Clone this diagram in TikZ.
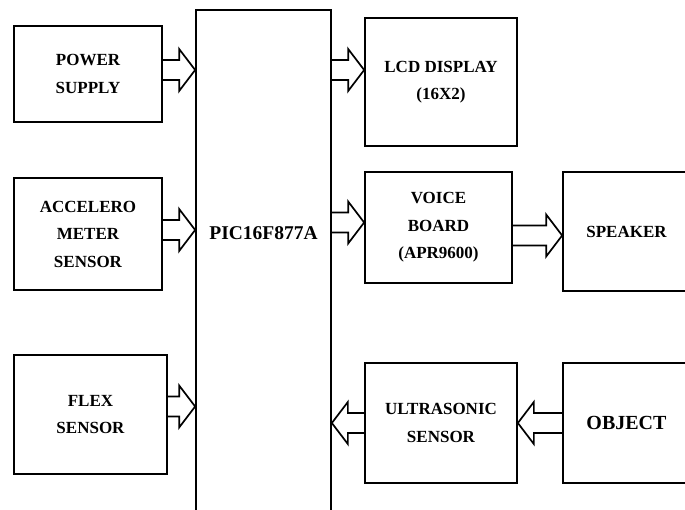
\documentclass[tikz,border=0pt]{standalone}
\usepackage{fontspec}
\setmainfont{Liberation Serif}
\usetikzlibrary{calc}

\tikzset{
  blk/.style={draw, line width=1.7pt, inner sep=0pt, align=center,
    font=\bfseries\fontsize{17}{27.5}\selectfont},
  % hollow block arrow, horizontal, from start to target
  fat/.style={line width=1.7pt, to path={
    let \p1=(\tikztostart), \p2=(\tikztotarget),
        \n2={16*(1-2*(\x2>\x1))} in
    (\x1,{\y1+10pt}) -- ({\x2+(\n2)},{\y1+10pt}) -- ({\x2+(\n2)},{\y1+21pt})
    -- (\x2,\y1) -- ({\x2+(\n2)},{\y1-21pt}) -- ({\x2+(\n2)},{\y1-10pt})
    -- (\x1,{\y1-10pt})}}
}

\begin{document}
\begin{tikzpicture}[x=1pt, y=-1pt]
\useasboundingbox (0,0) rectangle (685,510);

% inputs
\node[blk, minimum width=148pt, minimum height=96pt] (pwr) at (88,74) {POWER\\SUPPLY};
\node[blk, minimum width=148pt, minimum height=112pt] (acc) at (88,234) {ACCELERO\\METER\\SENSOR};
\node[blk, minimum width=153pt, minimum height=119pt] (flex) at (90.5,414.5) {FLEX\\SENSOR};

% controller
\node[blk, minimum width=135pt, minimum height=502pt] (pic) at (263.5,261) {};
\node[font=\bfseries\fontsize{19.5}{22}\selectfont] (pictxt) at (263.5,233) {PIC16F877A};

% outputs
\node[blk, minimum width=152pt, minimum height=128pt] (lcd) at (441,82) {LCD DISPLAY\\(16X2)};
\node[blk, minimum width=147pt, minimum height=111pt] (voice) at (438.5,227.5) {VOICE\\BOARD\\(APR9600)};
\node[blk, minimum width=127pt, minimum height=119pt] (spk) at (626.5,231.5) {SPEAKER};
\node[blk, minimum width=152pt, minimum height=120pt] (ultra) at (441,423) {ULTRASONIC\\SENSOR};
\node[blk, minimum width=127pt, minimum height=120pt, font=\bfseries\fontsize{20}{22}\selectfont] (obj) at (626.5,423) {OBJECT};

% block arrows
\draw[fat] ([yshift=4pt]pwr.east) to (pic.west);
\draw[fat] ([yshift=4pt]acc.east) to (pic.west);
\draw[fat] ([yshift=8pt]flex.east) to (pic.west);
\draw[fat] ([yshift=12pt]lcd.west -| pic.east) to (lcd.west);
\draw[fat] ([yshift=5pt]voice.west -| pic.east) to (voice.west);
\draw[fat] ([yshift=-8pt]voice.east) to (spk.west);
\draw[fat] (obj.west) to (ultra.east);
\draw[fat] (ultra.west) to (pic.east);
\end{tikzpicture}
\end{document}
